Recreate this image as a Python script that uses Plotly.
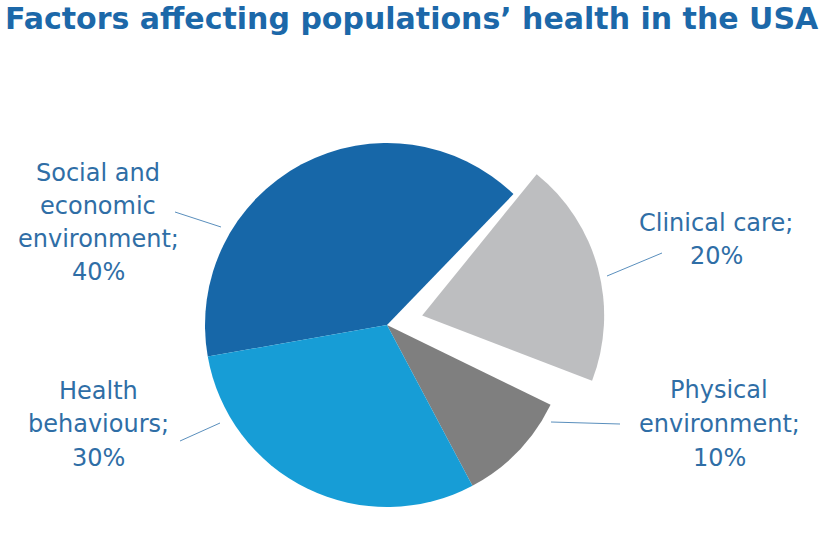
import plotly.graph_objects as go

# Data
categories = ["Social and economic environment", "Clinical care", "Physical environment", "Health behaviours"]
values = [40, 20, 10, 30]
pulls = [0, 0.2, 0, 0]
colors = ["#1767a8", "#bdbec0", "#7f7f7f", "#179dd6"]
label_lines = [
    ["Social and", "economic", "environment;", "40%"],
    ["Clinical care;", "20%"],
    ["Physical", "environment;", "10%"],
    ["Health", "behaviours;", "30%"],
]
title_text = "Factors affecting populations’ health in the USA"

W, H = 820, 554


def px(x):
    return x / W


def py(y):
    return 1 - y / H


# pie geometry (pixels)
cx, cy, r = 387, 325, 182
half = r * (1 + max(pulls))
domain = dict(x=[px(cx - half), px(cx + half)], y=[py(cy + half), py(cy - half)])

transparent = "rgba(0,0,0,0)"
base_colors = [c if i != 1 else transparent for i, c in enumerate(colors)]
pulled_colors = [c if i == 1 else transparent for i, c in enumerate(colors)]

fig = go.Figure()
fig.add_trace(
    go.Pie(
        labels=categories,
        values=values,
        pull=pulls,
        sort=False,
        direction="clockwise",
        rotation=260,
        marker=dict(colors=base_colors, line=dict(width=0)),
        textinfo="none",
        hoverinfo="label+percent",
        domain=domain,
        showlegend=False,
    )
)
# pulled-out slice drawn separately (slightly rotated, as in the original artwork)
fig.add_trace(
    go.Pie(
        labels=categories,
        values=values,
        pull=pulls,
        sort=False,
        direction="clockwise",
        rotation=255,
        marker=dict(colors=pulled_colors, line=dict(width=0)),
        textinfo="none",
        hoverinfo="skip",
        domain=domain,
        showlegend=False,
    )
)

label_x = [98, 716, 719, 98]
label_y = [
    [173, 206, 239, 272],
    [223, 256],
    [390, 424, 458],
    [391, 424, 458],
]
leaders = [
    ((175, 212), (221, 227)),
    ((662, 253), (607, 276)),
    ((551, 422), (620, 424)),
    ((220, 423), (180, 441)),
]

text_color = "#2f6ea6"
annotations = []
for lines, lx, lys in zip(label_lines, label_x, label_y):
    for t, ly in zip(lines, lys):
        annotations.append(
            dict(
                text=t,
                x=px(lx),
                y=py(ly),
                xref="paper",
                yref="paper",
                xanchor="center",
                yanchor="middle",
                showarrow=False,
                font=dict(family="DejaVu Sans", size=24, color=text_color),
            )
        )

annotations.append(
    dict(
        text="<b>" + title_text + "</b>",
        x=px(3),
        y=py(-1),
        xref="paper",
        yref="paper",
        xanchor="left",
        yanchor="top",
        showarrow=False,
        font=dict(family="DejaVu Sans", size=30, color="#1c68a9"),
    )
)

shapes = []
for (a, b) in leaders:
    shapes.append(
        dict(
            type="line",
            xref="paper",
            yref="paper",
            x0=px(a[0]),
            y0=py(a[1]),
            x1=px(b[0]),
            y1=py(b[1]),
            line=dict(color="#5a8fbd", width=1),
        )
    )

fig.update_layout(
    width=W,
    height=H,
    margin=dict(l=0, r=0, t=0, b=0),
    paper_bgcolor="white",
    plot_bgcolor="white",
    annotations=annotations,
    shapes=shapes,
)

fig.write_html("out.html")
